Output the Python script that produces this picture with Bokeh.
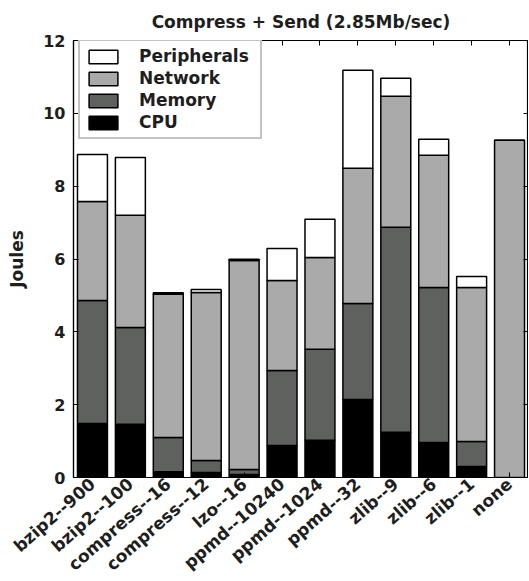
from bokeh.plotting import figure
from bokeh.models import (FactorRange, Range1d, Legend, LegendItem, CategoricalAxis,
                          LinearAxis, FixedTicker, ColumnDataSource)
from bokeh.embed import file_html
from bokeh.resources import INLINE

categories = ["bzip2--900", "bzip2--100", "compress--16", "compress--12", "lzo--16",
              "ppmd--10240", "ppmd--1024", "ppmd--32", "zlib--9", "zlib--6", "zlib--1", "none"]
cpu = [1.48, 1.46, 0.16, 0.14, 0.08, 0.88, 1.02, 2.14, 1.24, 0.96, 0.30, 0.0]
memory = [3.38, 2.66, 0.94, 0.33, 0.14, 2.06, 2.50, 2.64, 5.63, 4.26, 0.69, 0.0]
network = [2.72, 3.08, 3.93, 4.61, 5.74, 2.47, 2.52, 3.71, 3.60, 3.63, 4.23, 9.26]
peripherals = [1.29, 1.59, 0.04, 0.08, 0.03, 0.88, 1.05, 2.69, 0.49, 0.44, 0.30, 0.0]
y_ticks = [0, 2, 4, 6, 8, 10, 12]

series = ["CPU", "Memory", "Network", "Peripherals"]
colors = ["#000000", "#5f615f", "#aaaaaa", "#ffffff"]

source = ColumnDataSource(dict(x=categories, CPU=cpu, Memory=memory,
                               Network=network, Peripherals=peripherals))

FONT = "DejaVu Sans"
TXT = "#1e1e1e"

p = figure(x_range=FactorRange(factors=categories, range_padding=0),
           y_range=Range1d(0, 12),
           frame_width=455, frame_height=437, output_backend="svg", toolbar_location=None,
           title="Compress + Send (2.85Mb/sec)",
           min_border_left=73, min_border_right=0, min_border_top=40, min_border_bottom=104,
           background_fill_color="white", border_fill_color="white")

renderers = p.vbar_stack(series, x="x", width=0.79, source=source,
                         fill_color=colors, line_color="black", line_width=1.5)

p.title.align = "center"
p.title.text_font = FONT
p.title.text_font_size = "17px"
p.title.text_font_style = "bold"
p.title.text_color = TXT
p.title.standoff = 18

p.grid.visible = False
p.outline_line_color = "black"
p.outline_line_width = 1.2

# left axis
ya = p.yaxis[0]
ya.ticker = FixedTicker(ticks=y_ticks)
ya.axis_label = "Joules"
ya.axis_label_text_font = FONT
ya.axis_label_text_font_size = "17px"
ya.axis_label_text_font_style = "bold"
ya.axis_label_text_color = TXT
ya.axis_label_standoff = 13
ya.major_label_text_font = FONT
ya.major_label_text_font_size = "16px"
ya.major_label_text_font_style = "bold"
ya.major_label_text_color = TXT
ya.major_label_standoff = 8
ya.major_tick_in = 5
ya.major_tick_out = 0
ya.minor_tick_line_color = None
ya.axis_line_color = "black"
ya.axis_line_width = 1.2

# bottom axis
xa = p.xaxis[0]
xa.major_label_orientation = 0.72
xa.major_label_text_font = FONT
xa.major_label_text_font_size = "17px"
xa.major_label_text_font_style = "bold"
xa.major_label_text_color = TXT
xa.major_label_standoff = 4
xa.major_tick_in = 5
xa.major_tick_out = 0
xa.axis_line_color = "black"
xa.axis_line_width = 1.2

# top and right axes (ticks only)
top = CategoricalAxis(major_label_text_font_size="0px", major_tick_in=5, major_tick_out=0,
                      axis_line_color="black", major_label_standoff=0)
top.major_label_text_color = None
p.add_layout(top, "above")
right = LinearAxis(ticker=FixedTicker(ticks=y_ticks), major_tick_in=5, major_tick_out=0,
                   minor_tick_line_color=None, axis_line_color="black", major_label_standoff=0)
right.major_label_text_color = None
right.major_label_text_font_size = "0px"
p.add_layout(right, "right")

by_name = dict(zip(series, renderers))
legend = Legend(items=[LegendItem(label=n, renderers=[by_name[n]])
                       for n in ["Peripherals", "Network", "Memory", "CPU"]],
                location=(5, 338), margin=0, padding=5, spacing=2,
                glyph_width=36, glyph_height=17, label_height=17, label_width=116,
                label_standoff=18,
                label_text_font=FONT, label_text_font_size="17px",
                label_text_font_style="bold", label_text_color=TXT,
                border_line_color="#888888", border_line_width=2,
                background_fill_alpha=1.0)
p.add_layout(legend, "center")

open("out.html", "w").write(file_html(p, INLINE))
